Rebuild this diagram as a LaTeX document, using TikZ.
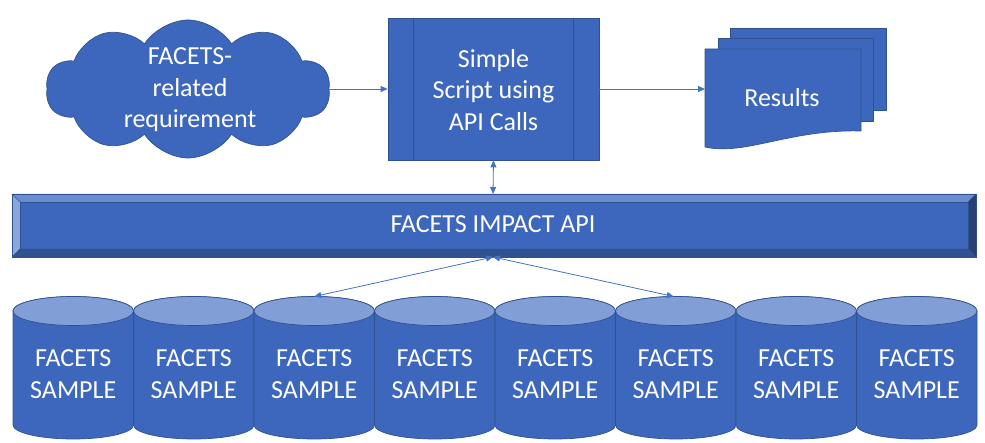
\documentclass[tikz,border=0pt]{standalone}
\usepackage{fontspec}
\setmainfont{Carlito}
\usetikzlibrary{shapes.symbols,arrows.meta}
\definecolor{mainblue}{HTML}{3D67BD}
\definecolor{edgeblue}{HTML}{2F528F}
\definecolor{topblue}{HTML}{819FD6}
\definecolor{arrowblue}{HTML}{4472C4}
\definecolor{bevtop}{HTML}{6A8CD0}
\definecolor{bevleft}{HTML}{8CA6DC}
\definecolor{bevbot}{HTML}{30528F}
\definecolor{bevright}{HTML}{283F72}
\tikzset{
  shapefill/.style={fill=mainblue, draw=edgeblue, line width=0.7pt},
  label26/.style={text=white, font=\fontsize{26}{31.5}\selectfont, align=center, inner sep=0pt},
  conn/.style={draw=arrowblue, line width=0.8pt, -{Triangle[length=7pt,width=6pt]}},
  dconn/.style={draw=arrowblue, line width=0.8pt, {Triangle[length=7pt,width=6pt]}-{Triangle[length=7pt,width=6pt]}},
}
\begin{document}
\begin{tikzpicture}[x=1pt,y=1pt]
\useasboundingbox (0,0) rectangle (985,442);

% cloud
\node[cloud, cloud puffs=10, cloud puff arc=115, aspect=2.05, shapefill,
      minimum width=284pt, minimum height=138pt, inner sep=0pt] (cloud) at (188,353) {};
\node[label26] (cloudtext) at (190,352) {FACETS-\\related\\requirement};

% process box
\node[shapefill, minimum width=211pt, minimum height=142pt, inner sep=0pt] (box) at (493.5,353) {};
\draw[edgeblue, line width=0.7pt] (box.north west) ++(26,0) coordinate (bl1) -- (bl1 |- box.south);
\draw[edgeblue, line width=0.7pt] (box.north east) ++(-26,0) coordinate (br1) -- (br1 |- box.south);
\node[label26] (boxtext) at (493.5,352) {Simple\\Script using\\API Calls};

% results (multi-document)
\draw[shapefill] (730,332) rectangle (886,414);
\draw[shapefill] (718,321) rectangle (873,404);
\draw[shapefill] (705,295) -- (705,393) -- (861,393) -- (861,311)
   .. controls (790,313) and (745,286) .. (705,295) -- cycle;
\coordinate (results) at (705,353);
\node[label26] (restext) at (782,344) {Results};

% API bar with bevel
\fill[mainblue] (20,193) rectangle (968,240);
\fill[bevtop] (12,248) -- (976,248) -- (968,240) -- (20,240) -- cycle;
\fill[bevleft] (12,248) -- (20,240) -- (20,193) -- (12,185) -- cycle;
\fill[bevbot] (12,185) -- (976,185) -- (968,193) -- (20,193) -- cycle;
\fill[bevright] (976,248) -- (976,185) -- (968,193) -- (968,240) -- cycle;
\draw[edgeblue, line width=0.6pt] (20,193) rectangle (968,240);
\draw[edgeblue, line width=0.6pt] (12,248) -- (20,240) (976,248) -- (968,240)
   (12,185) -- (20,193) (976,185) -- (968,193);
\draw[edgeblue, line width=0.8pt] (12,185) rectangle (976,248);
\node[label26] (api) at (493,218) {FACETS IMPACT API};
\coordinate (apitop) at (493,248);
\coordinate (apibot) at (493,185);

% cylinders
\foreach \i in {1,...,8}{
  \pgfmathsetmacro{\L}{13+120.5*(\i-1)}
  \pgfmathsetmacro{\R}{\L+120.5}
  \pgfmathsetmacro{\C}{\L+60.25}
  \draw[shapefill] (\L,131) -- (\L,17) arc[start angle=180, end angle=360, x radius=60.25pt, y radius=14pt]
     -- (\R,131) arc[start angle=0, end angle=180, x radius=60.25pt, y radius=14.5pt] -- cycle;
  \draw[fill=topblue, draw=edgeblue, line width=0.7pt] (\C,131) ellipse[x radius=60.25pt, y radius=14.5pt];
  \node[label26] (s\i) at (\C,68) {FACETS\\SAMPLE};
  \coordinate (s\i top) at (\C,145.5);
}

% connectors
\draw[conn] (cloud.east |- cloud.center) -- (box.west);
\draw[conn] (box.east) -- (results);
\draw[dconn] (box.south) -- (apitop);
\draw[dconn] (apibot) -- (s3top);
\draw[dconn] (apibot) -- ([xshift=-2pt]s6top);
\end{tikzpicture}
\end{document}
